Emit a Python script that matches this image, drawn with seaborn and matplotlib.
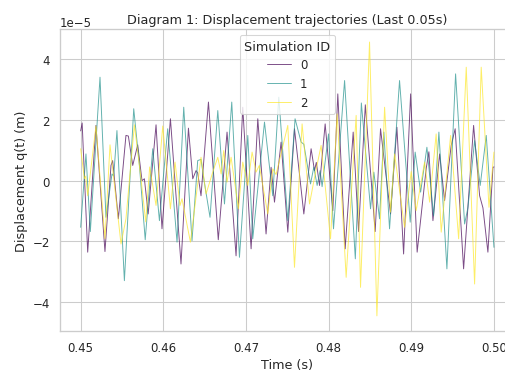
import numpy as np
import pandas as pd
import matplotlib
matplotlib.use("Agg")
import matplotlib.pyplot as plt
import seaborn as sns

# ---- data (displacement in units of 1e-5 m) ----
t0 = [0.45000, 0.45018, 0.45085, 0.45185, 0.45294, 0.45367, 0.45387, 0.45456, 0.45548, 0.45577,
      0.45630, 0.45690, 0.45742, 0.45771, 0.45817, 0.45912, 0.45984, 0.46086, 0.46214, 0.46304,
      0.46356, 0.46396, 0.46416, 0.46456, 0.46546, 0.46665, 0.46771, 0.46880, 0.46961, 0.47062,
      0.47143, 0.47243, 0.47304, 0.47345, 0.47425, 0.47506, 0.47587, 0.47700, 0.47788, 0.47829,
      0.47851, 0.47890, 0.47958, 0.48051, 0.48111, 0.48200, 0.48297, 0.48362, 0.48444, 0.48563,
      0.48628, 0.48749, 0.48826, 0.48907, 0.48992, 0.49071, 0.49180, 0.49213, 0.49262, 0.49343,
      0.49403, 0.49483, 0.49531, 0.49633, 0.49754, 0.49827, 0.49867, 0.49927, 0.49988, 0.50000]
q0 = [1.64, 1.90, -2.36, 1.82, -2.34, 0.50, 0.66, -1.26, 1.49, 1.47,
      0.50, 1.18, 0.00, 0.06, -1.10, 1.84, -1.59, 2.04, -2.75, 1.73,
      0.06, 0.33, 0.25, -0.50, 2.59, -1.95, 1.60, -2.48, 2.42, -2.25,
      2.04, -1.76, 0.44, -0.71, 1.27, -1.70, 1.71, -1.10, 1.05, 0.33,
      0.60, -0.16, 1.87, -0.99, 2.86, -2.25, 1.60, -1.68, 2.50, -1.68,
      1.71, -1.10, 1.76, -2.42, 2.86, -2.36, 0.39, 0.95, -1.32, 0.88,
      -0.66, 1.16, 1.71, -2.91, 1.82, -0.50, -0.90, -2.36, 0.44, 0.45]

t1 = [0.45000, 0.45064, 0.45117, 0.45234, 0.45306, 0.45379, 0.45400, 0.45439, 0.45529, 0.45642,
      0.45711, 0.45781, 0.45811, 0.45872, 0.45953, 0.46053, 0.46166, 0.46247, 0.46347, 0.46416,
      0.46456, 0.46493, 0.46565, 0.46659, 0.46740, 0.46828, 0.46921, 0.47022, 0.47082, 0.47224,
      0.47324, 0.47397, 0.47506, 0.47594, 0.47667, 0.47700, 0.47781, 0.47821, 0.47861, 0.47897,
      0.47921, 0.47999, 0.48059, 0.48193, 0.48323, 0.48396, 0.48507, 0.48547, 0.48616, 0.48668,
      0.48737, 0.48858, 0.48987, 0.49047, 0.49113, 0.49189, 0.49270, 0.49334, 0.49431, 0.49536,
      0.49645, 0.49685, 0.49766, 0.49834, 0.49907, 0.50000]
q1 = [-1.54, 0.88, -1.68, 3.41, -1.21, 0.22, 0.15, 1.65, -3.30, 2.37,
      0.50, -1.95, -0.93, 1.05, -1.32, 1.71, -2.03, 2.42, -1.98, 0.66,
      0.70, 0.00, -1.21, 2.31, -0.77, 2.59, -2.53, 1.49, -1.92, 1.93,
      -0.50, 2.75, -1.32, 2.04, 1.27, 1.20, -0.11, 0.45, -0.16, 0.33,
      -0.20, 1.54, -1.59, 3.30, -2.58, 2.56, -0.93, 0.28, -1.26, 1.60,
      -1.59, 3.30, -1.37, 0.94, -0.38, 1.10, -1.16, 1.60, -2.91, 3.52,
      -1.43, -0.90, 1.32, -0.16, 1.49, -2.20]

t2 = [0.45000, 0.45045, 0.45061, 0.45085, 0.45185, 0.45294, 0.45355, 0.45488, 0.45548, 0.45650,
      0.45730, 0.45787, 0.45835, 0.45912, 0.45993, 0.46086, 0.46142, 0.46202, 0.46226, 0.46328,
      0.46456, 0.46517, 0.46598, 0.46659, 0.46699, 0.46731, 0.46771, 0.46820, 0.46909, 0.46961,
      0.47022, 0.47074, 0.47122, 0.47161, 0.47264, 0.47324, 0.47364, 0.47506, 0.47587, 0.47679,
      0.47769, 0.47829, 0.47909, 0.48023, 0.48103, 0.48212, 0.48333, 0.48386, 0.48495, 0.48584,
      0.48677, 0.48749, 0.48798, 0.48919, 0.48999, 0.49059, 0.49161, 0.49222, 0.49301, 0.49362,
      0.49476, 0.49573, 0.49665, 0.49766, 0.49846, 0.49940, 0.50000]
q2 = [1.05, 0.06, 0.15, -0.50, 1.80, -1.92, 1.18, -2.09, -1.26, 1.84,
      0.06, -1.36, 0.45, -0.82, 1.80, -0.93, 0.61, -0.82, -0.60, -2.03,
      0.77, -0.44, 0.28, 0.77, 0.22, 0.99, -0.05, 0.77, -0.93, 0.61,
      -0.16, 0.94, 0.28, 0.50, -1.10, 0.39, 0.20, 1.82, -2.86, 1.87,
      -0.77, 0.10, 1.16, -1.92, 2.20, -3.19, 2.15, -3.52, 4.57, -4.46,
      2.42, -1.04, 0.88, -1.54, 0.30, -0.99, 0.61, -0.71, 1.54, -1.70,
      1.49, -1.92, 3.74, -3.41, 3.74, -0.88, 0.94]

sim_ids = [0, 1, 2]
times = [t0, t1, t2]
values = [q0, q1, q2]
scale = 1e-5

frames = []
for sid, tt, qq in zip(sim_ids, times, values):
    frames.append(pd.DataFrame({"Time (s)": tt,
                                "q": np.array(qq) * scale,
                                "Simulation ID": sid}))
df = pd.concat(frames, ignore_index=True)

sns.set_theme(style="whitegrid")
dpi = 76.5
fig = plt.figure(figsize=(506 / dpi, 372 / dpi), dpi=dpi)
ax = fig.add_axes([60 / 506, 40 / 372, 454.6 / 506, 302 / 372])

sns.lineplot(data=df, x="Time (s)", y="q", hue="Simulation ID",
             palette="viridis", legend="full", linewidth=0.9, alpha=0.7,
             ax=ax, estimator=None, sort=False)

ax.set_xlim(0.4475, 0.5025)
ax.set_ylim(-4.96e-5, 5.0e-5)
ax.set_xticks([0.45, 0.46, 0.47, 0.48, 0.49, 0.50])
ax.set_xlabel("Time (s)")
ax.set_ylabel("Displacement q(t) (m)")
ax.set_title("Diagram 1: Displacement trajectories (Last 0.05s)")
ax.legend(title="Simulation ID", loc="upper center")

fig.savefig("out.png", dpi=dpi)
